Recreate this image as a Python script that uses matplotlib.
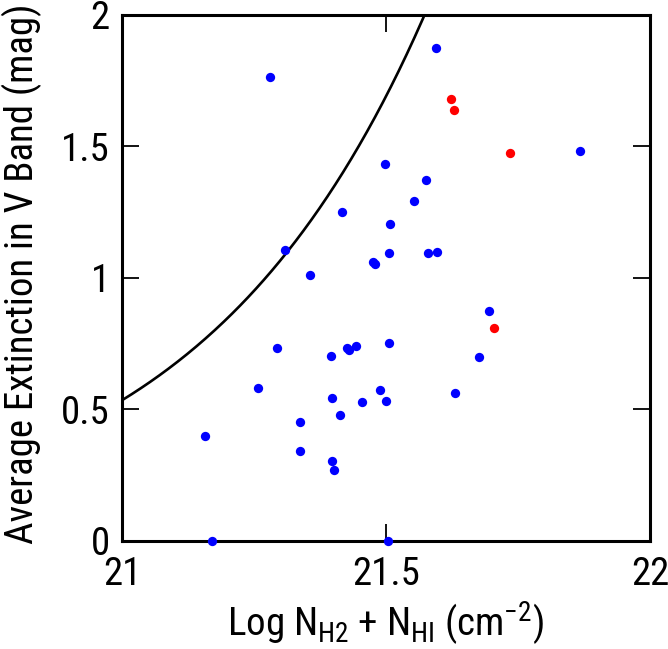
import numpy as np
import matplotlib
matplotlib.use('Agg')
import matplotlib.pyplot as plt

# 字体: 窄体无衬线, 找不到时退回 Liberation Sans
plt.rcParams['font.family'] = ['Roboto Condensed', 'Liberation Sans', 'DejaVu Sans']
plt.rcParams['mathtext.fontset'] = 'custom'
plt.rcParams['mathtext.rm'] = 'Roboto Condensed'
plt.rcParams['mathtext.it'] = 'Roboto Condensed:italic'
plt.rcParams['axes.unicode_minus'] = True

# 数据
blue_x = [21.279, 21.594, 21.498, 21.576, 21.552, 21.508, 21.505, 21.579, 21.596,
          21.868, 21.417, 21.308, 21.356, 21.475, 21.478, 21.294, 21.395, 21.425,
          21.430, 21.443, 21.506, 21.258, 21.488, 21.500, 21.398, 21.455, 21.413,
          21.337, 21.157, 21.337, 21.398, 21.402, 21.170, 21.504, 21.630, 21.675,
          21.694]
blue_y = [1.762, 1.875, 1.431, 1.370, 1.292, 1.203, 1.093, 1.093, 1.097,
          1.483, 1.250, 1.107, 1.011, 1.060, 1.052, 0.734, 0.701, 0.734,
          0.724, 0.739, 0.750, 0.581, 0.574, 0.531, 0.543, 0.527, 0.479,
          0.452, 0.399, 0.341, 0.303, 0.270, 0.0, 0.0, 0.563, 0.700,
          0.875]
red_x = [21.623, 21.629, 21.735, 21.704]
red_y = [1.681, 1.636, 1.475, 0.808]

# 标准关系 A_V = N_H / 1.87e21
gas_to_dust = 1.87
x_ticks = [21, 21.5, 22]
x_labels = ['21', '21.5', '22']
y_ticks = [0, 0.5, 1, 1.5, 2]
y_labels = ['0', '0.5', '1', '1.5', '2']

fig = plt.figure(figsize=(6.68, 6.49), dpi=100)
ax = fig.add_axes([0.1831, 0.1669, 0.79, 0.8104])

curve_x = np.linspace(21, 22, 400)
curve_y = 10 ** (curve_x - 21) / gas_to_dust
ax.plot(curve_x, curve_y, color='black', lw=1.9, zorder=2)

ax.scatter(blue_x, blue_y, s=45, color='blue', linewidths=0, clip_on=False, zorder=3)
ax.scatter(red_x, red_y, s=45, color='red', linewidths=0, clip_on=False, zorder=3)

ax.set_xlim(21, 22)
ax.set_ylim(0, 2)
ax.set_xticks(x_ticks, x_labels)
ax.set_yticks(y_ticks, y_labels)
ax.tick_params(direction='in', length=12.5, width=1.3, labelsize=28,
               top=True, right=True)
ax.tick_params(axis='x', pad=11)
ax.tick_params(axis='y', pad=9)
for sp in ax.spines.values():
    sp.set_linewidth(2.2)

fig.text(385 / 668, 1 - 637 / 649,
         r'Log N$_{\mathrm{H2}}$ + N$_{\mathrm{HI}}$ (cm$^{-2}$)',
         fontsize=28, ha='center', va='baseline')
fig.text(33 / 668, 1 - 274 / 649, 'Average Extinction in V Band (mag)',
         fontsize=28, rotation=90, rotation_mode='anchor',
         ha='center', va='baseline')

fig.savefig('out.png', dpi=100)
